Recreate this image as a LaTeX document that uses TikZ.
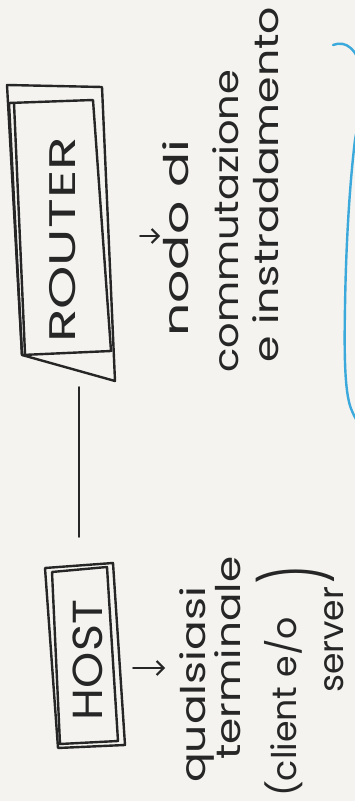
\documentclass[tikz,border=0pt]{standalone}
\usepackage{fontspec}
\usepackage{graphicx}
\usetikzlibrary{arrows.meta}
\newfontfamily\handfont{Poppins}
\definecolor{paper}{HTML}{F4F3EF}
\definecolor{ink}{HTML}{262626}
\definecolor{hlblue}{HTML}{3BA9DB}
\newcommand{\hfit}[2]{\resizebox{#1}{\height}{#2}}
\begin{document}
\begin{tikzpicture}[x=1pt,y=1pt,
  sketch/.style={draw=ink,line width=2.4pt,line join=round,line cap=round},
  wire/.style={draw=ink,line width=2.2pt,line cap=round},
  pointer/.style={draw=ink,line width=2.2pt,line cap=round,
    -{Straight Barb[length=7pt,width=14pt,line width=2.2pt]}},
  boxtext/.style={rotate=90,text=ink,inner sep=0pt},
  note/.style={rotate=90,anchor=base west,text=ink,inner sep=0pt,
    font=\handfont\fontsize{34}{34}\selectfont},
  boxarea/.style={draw=none,inner sep=0pt},
  bracket/.style={draw=hlblue,line width=2.4pt,line cap=round}]
\fill[paper] (0,0) rectangle (355,801);
\useasboundingbox (0,0) rectangle (355,801);
\clip (0,0) rectangle (355,801);

% invisible areas naming the two boxes
\node[boxarea, minimum width=108pt, minimum height=295pt] (routerbox) at (61,568.5) {};
\node[boxarea, minimum width=80pt, minimum height=185pt] (hostbox) at (85,145.5) {};

% ROUTER box (sketchy double outline)
\draw[sketch] (7,716) -- (102,714) -- (115,420) -- (22,446) -- cycle;
\draw[sketch] (9,698) -- (93,701) -- (111,450) -- (22,446) -- cycle;
\draw[sketch] (14,698) -- (25,447);

% HOST box (sketchy double outline)
\draw[sketch] (45,233) -- (113,238) -- (125,56) -- (58,53) -- cycle;
\draw[sketch] (52,229) -- (107,234) -- (118,60) -- (60,57) -- cycle;

% box texts
\node[boxtext, font=\handfont\fontsize{37}{37}\selectfont] (router) at (63,561) {\hfit{206pt}{ROUTER}};
\node[boxtext, font=\handfont\fontsize{42}{42}\selectfont] (host) at (88,141) {\hfit{120pt}{HOST}};

% connector between host and router
\draw[wire] ([shift={(18,-7)}]routerbox.south) -- ([shift={(-6,26)}]hostbox.north);

% pointer arrows
\draw[pointer] ([shift={(25,-3.5)}]routerbox.east) -- ++(20,0);
\draw[pointer] ([shift={(8,-12.5)}]hostbox.east) -- ++(32,0);

% router description
\node[note] (rl1) at (188,464) {\hfit{197pt}{nodo di}};
\node[note] (rl2) at (238,428) {\hfit{303pt}{commutazione}};
\node[note] (rl3) at (278,438) {\hfit{356pt}{e instradamento}};

% host description
\node[note] (hl1) at (205,18) {\hfit{196pt}{qualsiasi}};
\node[note] (hl2) at (240,41) {\hfit{203pt}{terminale}};
\node[note] (hl3) at (296,4) {\hfit{180pt}{(client e/o}};
\node[note, text depth=0pt] (hl4) at (343,108) {\hfit{106pt}{server}\hspace{3pt}\raisebox{22pt}[0pt][0pt]{\fontsize{28}{28}\selectfont\scalebox{1.4}[2.5]{)}}};

% blue bracket
\draw[bracket] (333,756) .. controls (346,761) and (357,752) .. (362,730)
  .. controls (366,700) and (358,680) .. (355,661)
  .. controls (350,620) and (346,560) .. (345,494)
  .. controls (344,440) and (345,405) .. (352,390)
  .. controls (354,385) and (357,380) .. (360,375);
\end{tikzpicture}
\end{document}
